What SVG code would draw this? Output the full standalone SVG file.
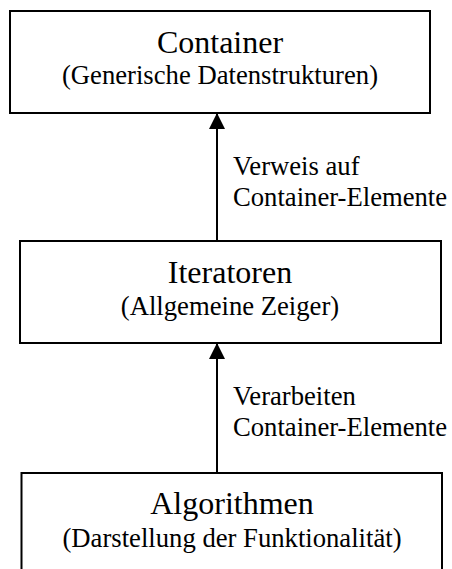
<svg xmlns="http://www.w3.org/2000/svg" width="452" height="569" viewBox="0 0 452 569">
  <style>
    .box { fill: #fff; stroke: #000; stroke-width: 2; }
    .t { font-family: "Liberation Serif", "Times New Roman", serif; fill: #000; }
    .main { font-size: 32px; text-anchor: middle; }
    .sub { font-size: 26.67px; text-anchor: middle; }
    .lbl { font-size: 26.67px; }
    .conn { stroke: #000; stroke-width: 2; fill: none; marker-end: url(#arrow); }
  </style>
  <defs>
    <marker id="arrow" markerUnits="userSpaceOnUse" markerWidth="18" markerHeight="18" refX="16" refY="8" orient="auto">
      <path d="M0,0 L16,8 L0,16 Z" fill="#000"/>
    </marker>
  </defs>
  <rect width="452" height="569" fill="#fff"/>
  <g id="connectors">
    <line class="conn" x1="217" y1="241" x2="217" y2="113"/>
    <line class="conn" x1="217" y1="473" x2="217" y2="343"/>
    <text class="t lbl" x="233" y="175">Verweis auf</text>
    <text class="t lbl" x="233" y="206">Container-Elemente</text>
    <text class="t lbl" x="233" y="405">Verarbeiten</text>
    <text class="t lbl" x="233" y="436">Container-Elemente</text>
  </g>
  <g id="container">
    <rect class="box" x="10" y="11" width="420" height="102"/>
    <text class="t main" x="220" y="53">Container</text>
    <text class="t sub" x="220" y="84">(Generische Datenstrukturen)</text>
  </g>
  <g id="iteratoren">
    <rect class="box" x="20" y="241" width="421" height="102"/>
    <text class="t main" x="230" y="283">Iteratoren</text>
    <text class="t sub" x="230" y="315">(Allgemeine Zeiger)</text>
  </g>
  <g id="algorithmen">
    <rect class="box" x="21.5" y="473" width="420.5" height="110"/>
    <text class="t main" x="232" y="514">Algorithmen</text>
    <text class="t sub" x="232" y="547">(Darstellung der Funktionalität)</text>
  </g>
</svg>
